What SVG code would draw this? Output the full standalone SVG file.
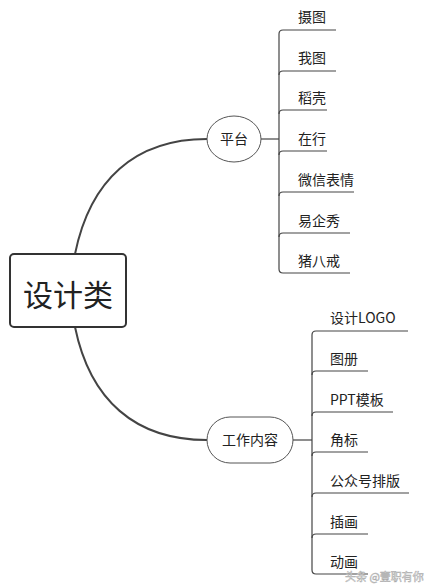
<svg xmlns="http://www.w3.org/2000/svg" width="435" height="587" viewBox="0 0 435 587">
<style>
text{font-family:"Noto Sans CJK SC","Noto Sans",sans-serif;fill:#222}
.leaf{font-size:14px}
.br{fill:none;stroke:#444;stroke-width:1.2}
.main{fill:none;stroke:#444;stroke-width:2}
.node{fill:#fff;stroke:#555;stroke-width:1}
</style>
<rect width="435" height="587" fill="#fff"/>
<g id="connectors">
<path class="main" d="M75,254 C90,180 135,139 207,139"/>
<path class="main" d="M75,327 C90,400 135,440 207,440"/>
<path class="br" d="M261,139 H279"/>
<path class="br" d="M279,34 V269"/>
<path class="br" d="M279,34 Q279,30 283,30 H336"/>
<path class="br" d="M279,75 Q279,71 283,71 H336"/>
<path class="br" d="M279,114 Q279,110 283,110 H327"/>
<path class="br" d="M279,155 Q279,151 283,151 H327"/>
<path class="br" d="M279,196 Q279,192 283,192 H354"/>
<path class="br" d="M279,237 Q279,233 283,233 H350"/>
<path class="br" d="M279,269 Q279,273 283,273 H350"/>
<path class="br" d="M293,440 H312"/>
<path class="br" d="M312,335 V570"/>
<path class="br" d="M312,335 Q312,331 316,331 H408"/>
<path class="br" d="M312,375 Q312,371 316,371 H368"/>
<path class="br" d="M312,416 Q312,412 316,412 H393"/>
<path class="br" d="M312,456 Q312,452 316,452 H368"/>
<path class="br" d="M312,497 Q312,493 316,493 H409"/>
<path class="br" d="M312,538 Q312,534 316,534 H368"/>
<path class="br" d="M312,570 Q312,574 316,574 H368"/>
</g>
<g id="root">
<rect x="10" y="254" width="116" height="73" rx="4" fill="#fff" stroke="#333" stroke-width="2"/>
<text x="68" y="306" font-size="30" text-anchor="middle">设计类</text>
</g>
<g id="n-platform">
<ellipse cx="234" cy="139" rx="27" ry="23" class="node"/>
<text x="234" y="144" font-size="14" text-anchor="middle">平台</text>
</g>
<g id="n-work">
<rect x="207" y="417" width="86" height="46" rx="23" class="node"/>
<text x="250" y="445" font-size="14" text-anchor="middle">工作内容</text>
</g>
<g id="leaves-platform">
<text class="leaf" x="298" y="22">摄图</text>
<text class="leaf" x="298" y="63">我图</text>
<text class="leaf" x="298" y="103">稻壳</text>
<text class="leaf" x="298" y="144">在行</text>
<text class="leaf" x="298" y="185">微信表情</text>
<text class="leaf" x="298" y="226">易企秀</text>
<text class="leaf" x="298" y="266">猪八戒</text>
</g>
<g id="leaves-work">
<text class="leaf" x="330" y="323">设计LOGO</text>
<text class="leaf" x="330" y="364">图册</text>
<text class="leaf" x="330" y="405">PPT模板</text>
<text class="leaf" x="330" y="445">角标</text>
<text class="leaf" x="330" y="486">公众号排版</text>
<text class="leaf" x="330" y="527">插画</text>
<text class="leaf" x="330" y="567">动画</text>
</g>
<text x="345" y="581" font-size="11" style="fill:#f4f4f4" stroke="#aaa" stroke-width="0.5">头条 @壹职有你</text>
</svg>
